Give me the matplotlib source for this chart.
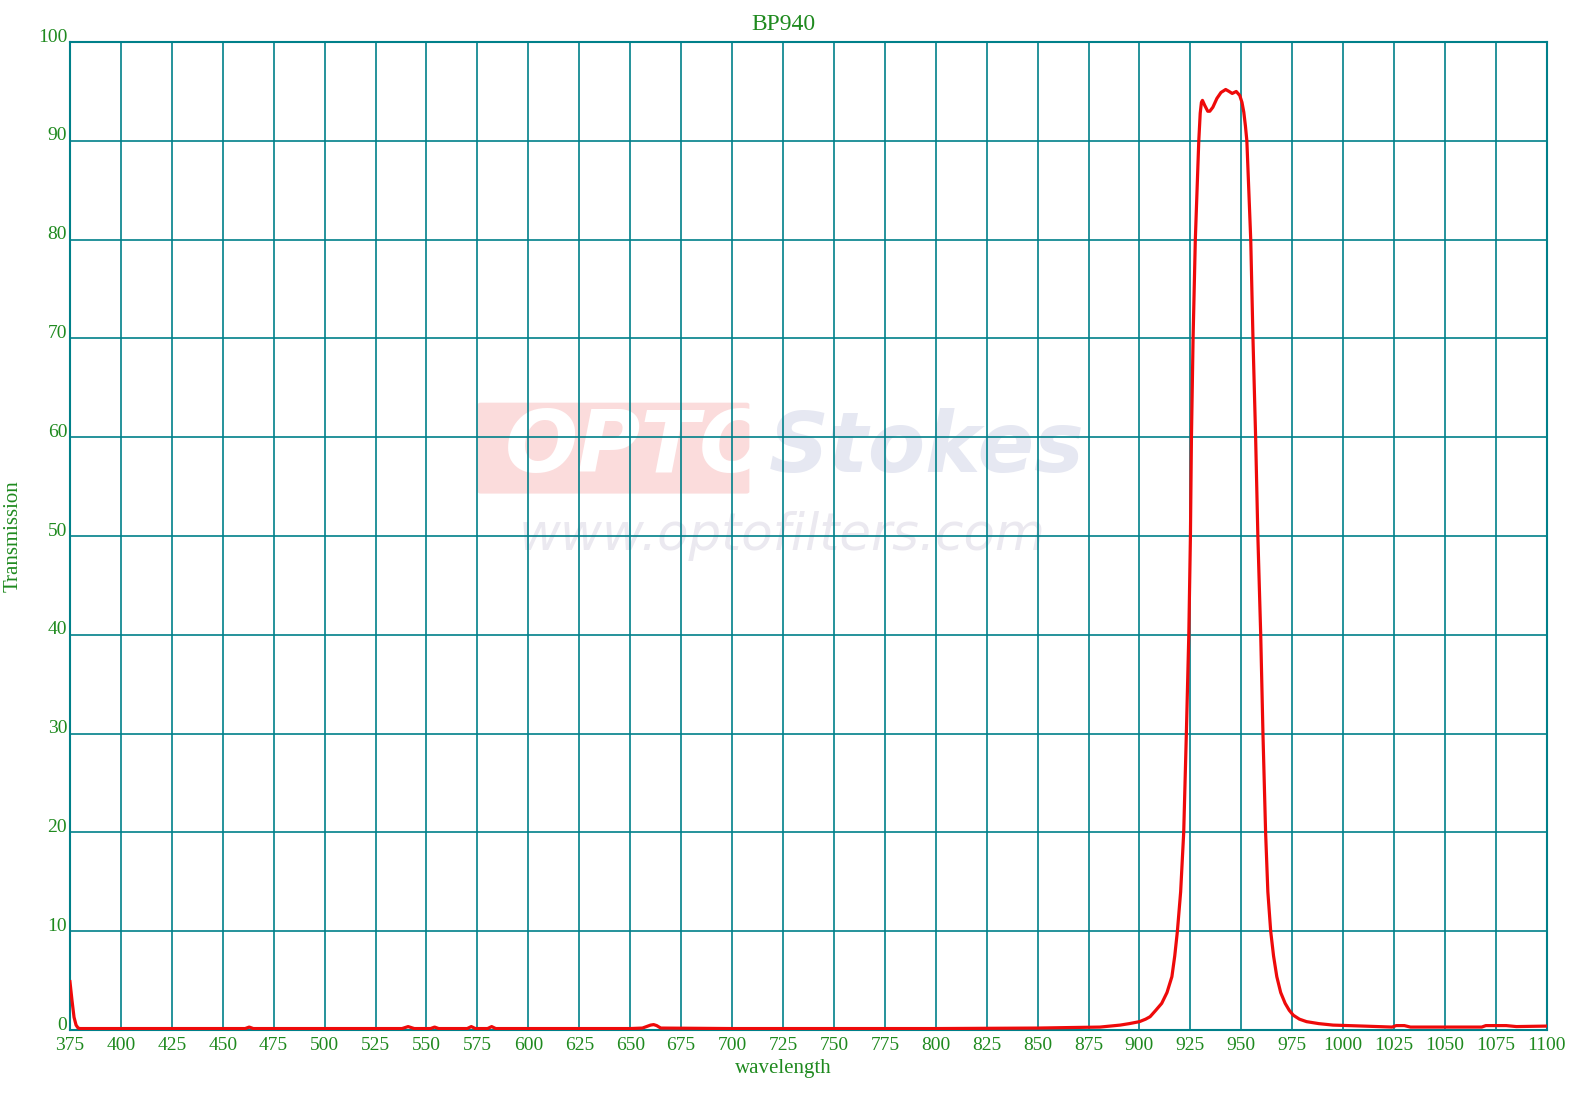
import matplotlib.pyplot as plt
from matplotlib.patches import FancyBboxPatch
from matplotlib.transforms import ScaledTranslation

# BP940 filtre geçirgenlik eğrisi
dalga_boyu = [375, 376, 377, 378, 379, 380, 400, 450, 461, 463, 465, 500, 538,
              541, 544, 552, 554, 556, 570, 572, 574, 580, 582, 584, 600, 650,
              656, 658, 660, 661.5, 663, 665, 700, 800, 850, 865, 880.6, 890.5,
              895, 900, 903, 905.2, 908, 910.9, 913.5, 915.9, 917.3, 918.6,
              920.2, 921.7, 923.0, 924.2, 925.0,
              925.5, 926.3, 927.4, 929.1, 929.8, 930.4, 930.9, 932.0, 933.5,
              934.5, 936.0, 938.0, 940.0, 942.3, 944.0, 945.5, 947.5, 949.2,
              950.3, 951.2, 952.0, 952.7, 954.6, 955.7, 957.0, 958.1, 959.5,
              960.6, 961.9, 963.0, 964.4, 965.8, 967.4, 969.3, 971.5, 973.5,
              975.5, 978.5, 982, 988, 995, 1010, 1024,
              1026, 1030, 1033, 1050, 1068, 1070, 1080, 1085, 1100]
gecirgenlik = [4.9, 3.0, 1.3, 0.5, 0.2, 0.15, 0.15, 0.15, 0.15, 0.3, 0.15, 0.15, 0.15,
               0.35, 0.15, 0.15, 0.3, 0.15, 0.15, 0.35, 0.15, 0.15, 0.35, 0.15, 0.15, 0.15,
               0.2, 0.35, 0.5, 0.55, 0.45, 0.2, 0.15, 0.15, 0.2, 0.25, 0.3, 0.5,
               0.65, 0.85, 1.1, 1.35, 2.0, 2.7, 3.8, 5.4, 7.5, 10,
               14, 20, 30, 40, 50,
               60, 70, 80, 90, 92.8, 93.9, 94.1, 93.6, 93.0,
               93.0, 93.4, 94.3, 94.9, 95.2, 95.0, 94.8, 95.0, 94.6,
               93.9, 92.9, 91.5, 90, 80, 70, 60, 50, 40,
               30, 20, 14, 10, 7.5, 5.4, 3.8, 2.7, 2.0,
               1.5, 1.1, 0.85, 0.65, 0.5, 0.4, 0.3,
               0.45, 0.45, 0.3, 0.3, 0.3, 0.45, 0.45, 0.35, 0.4]

x_ticks = list(range(375, 1101, 25))
y_ticks = list(range(0, 101, 10))

yesil = '#1f8a1f'
grid_rengi = '#00808a'
plt.rcParams['font.family'] = ['Liberation Serif', 'DejaVu Serif']

fig = plt.figure(figsize=(15.79, 11.19), dpi=100)
ax = fig.add_axes([0.0443, 0.0795, 0.9354, 0.8829])

# filigran
ax.add_patch(FancyBboxPatch((0.278, 0.545), 0.18, 0.088, boxstyle='round,pad=0.002',
                            transform=ax.transAxes, facecolor='#fbdcdc',
                            edgecolor='none', zorder=0.1))
ax.text(0.385, 0.589, 'OPTO', transform=ax.transAxes, fontsize=62, color='white',
        fontweight='bold', style='italic', family='DejaVu Sans',
        ha='center', va='center', zorder=0.2)
ax.text(0.58, 0.589, 'Stokes', transform=ax.transAxes, fontsize=60, color='#e6e8f2',
        fontweight='bold', style='italic', family='DejaVu Sans',
        ha='center', va='center', zorder=0.2)
ax.text(0.482, 0.50, 'www.optofilters.com', transform=ax.transAxes, fontsize=37,
        color='#ebe9f0', style='italic', family='DejaVu Sans',
        ha='center', va='center', zorder=0.2)

ax.plot(dalga_boyu, gecirgenlik, color='#ee0a0a', linewidth=2.3, zorder=3)

ax.set_xlim(375, 1100)
ax.set_ylim(0, 100)
ax.set_xticks(x_ticks)
ax.set_yticks(y_ticks)
ax.grid(True, color=grid_rengi, linewidth=1.2)
for s in ax.spines.values():
    s.set_color(grid_rengi)
    s.set_linewidth(1.5)
ax.tick_params(length=0, labelsize=14, labelcolor=yesil)
ax.tick_params(axis='x', pad=5)
ax.tick_params(axis='y', pad=2)
for lbl in ax.get_yticklabels():
    lbl.set_transform(lbl.get_transform() + ScaledTranslation(0, 5 / 72, fig.dpi_scale_trans))

fig.text(0.496, 0.978, 'BP940', color=yesil, fontsize=17, ha='center', va='center')
ax.set_xlabel('wavelength', color=yesil, fontsize=15, labelpad=3)
ax.xaxis.set_label_coords(0.4827, -0.029)
ax.set_ylabel('Transmission', color=yesil, fontsize=15, labelpad=11)

plt.savefig('out.png', dpi=100)
